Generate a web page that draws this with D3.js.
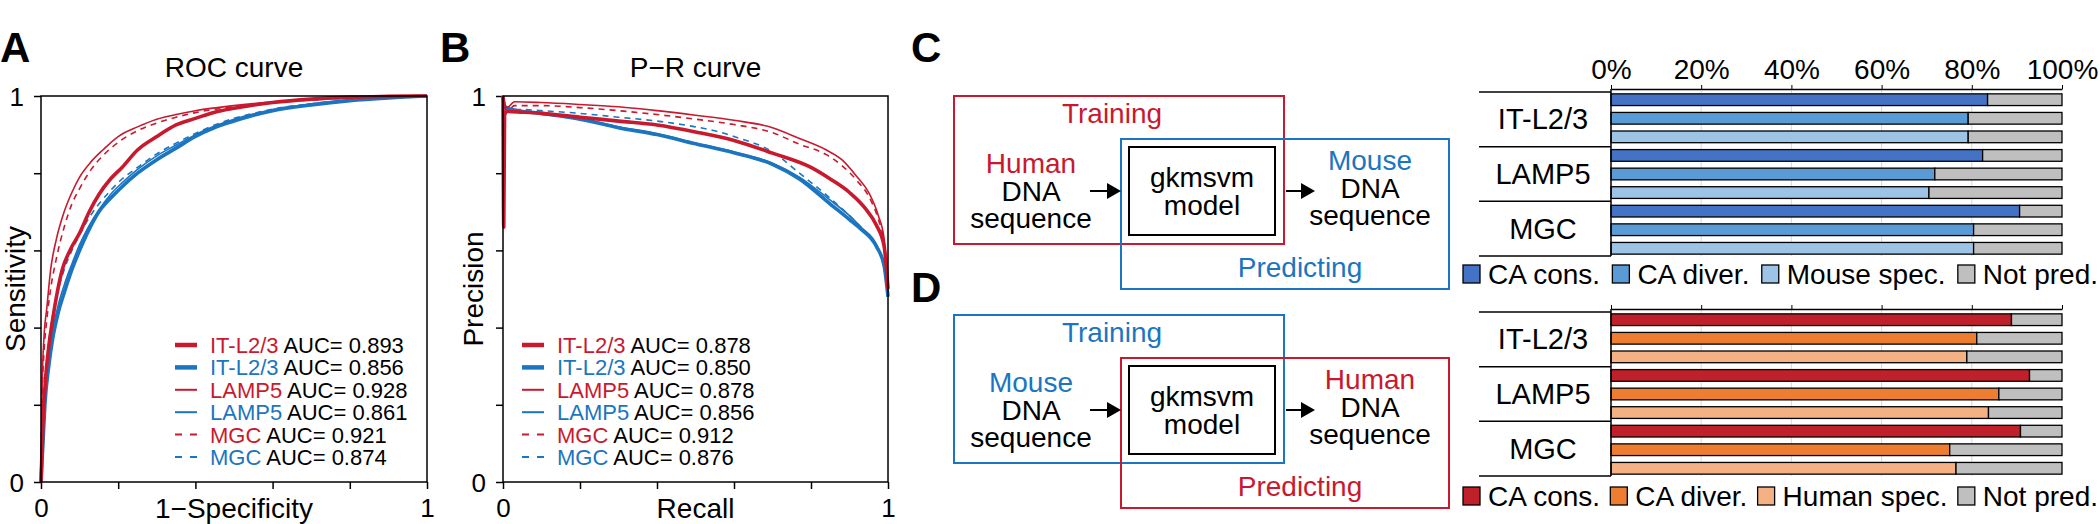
<!DOCTYPE html>
<html><head><meta charset="utf-8">
<script src="https://cdn.jsdelivr.net/npm/d3@7"></script>
<style>
html,body{margin:0;padding:0;background:#fff;}
svg{display:block;font-family:"Liberation Sans",Arial,Helvetica,sans-serif;}
</style></head><body>
<svg id="chart" width="2100" height="524"></svg>
<script>
// ---------------- DATA ----------------
const seriesNames = ["IT-L2/3","IT-L2/3","LAMP5","LAMP5","MGC","MGC"];
const seriesSpecies = ["human","mouse","human","mouse","human","mouse"];
const rocAUC = ["0.893","0.856","0.928","0.861","0.921","0.874"];
const prAUC  = ["0.878","0.850","0.878","0.856","0.912","0.876"];
const axisTicks = [0,0.2,0.4,0.6,0.8,1];

// ROC curves: [1-specificity, sensitivity]
const rocItHuman = [[0,0],[0.005,0.15],[0.012,0.27],[0.02,0.35],[0.03,0.42],[0.04,0.48],[0.055,0.55],[0.075,0.6],[0.1,0.645],[0.125,0.7],[0.15,0.745],[0.18,0.785],[0.21,0.815],[0.25,0.86],[0.3,0.895],[0.35,0.925],[0.4,0.942],[0.45,0.958],[0.5,0.968],[0.6,0.983],[0.7,0.992],[0.8,0.997],[0.9,0.999],[1,1]];
const rocItMouse = [[0,0],[0.005,0.1],[0.01,0.2],[0.02,0.3],[0.03,0.37],[0.045,0.44],[0.06,0.49],[0.08,0.55],[0.1,0.6],[0.125,0.655],[0.15,0.7],[0.18,0.735],[0.21,0.765],[0.25,0.8],[0.3,0.835],[0.35,0.865],[0.4,0.895],[0.45,0.918],[0.5,0.935],[0.55,0.95],[0.6,0.962],[0.7,0.977],[0.8,0.988],[0.9,0.995],[1,1]];
const rocLampHuman = [[0,0],[0.003,0.25],[0.008,0.38],[0.015,0.45],[0.025,0.55],[0.04,0.63],[0.06,0.7],[0.08,0.75],[0.1,0.79],[0.13,0.83],[0.16,0.86],[0.2,0.895],[0.25,0.92],[0.3,0.94],[0.35,0.952],[0.4,0.962],[0.5,0.975],[0.6,0.985],[0.7,0.99],[0.8,0.995],[0.9,0.998],[1,1]];
const rocLampMouse = [[0,0],[0.005,0.12],[0.01,0.22],[0.02,0.32],[0.03,0.39],[0.045,0.46],[0.06,0.51],[0.08,0.565],[0.1,0.615],[0.125,0.665],[0.15,0.705],[0.18,0.745],[0.21,0.775],[0.25,0.81],[0.3,0.845],[0.35,0.873],[0.4,0.9],[0.45,0.922],[0.5,0.94],[0.55,0.953],[0.6,0.965],[0.7,0.979],[0.8,0.989],[0.9,0.995],[1,1]];
const rocMgcHuman = [[0,0],[0.003,0.22],[0.008,0.34],[0.015,0.42],[0.025,0.5],[0.04,0.58],[0.06,0.66],[0.08,0.72],[0.1,0.76],[0.13,0.81],[0.16,0.845],[0.2,0.88],[0.25,0.91],[0.3,0.93],[0.35,0.945],[0.4,0.957],[0.5,0.972],[0.6,0.983],[0.7,0.99],[0.8,0.995],[0.9,0.998],[1,1]];
const rocMgcMouse = [[0,0],[0.005,0.14],[0.01,0.25],[0.02,0.36],[0.03,0.43],[0.045,0.5],[0.06,0.55],[0.08,0.6],[0.1,0.64],[0.125,0.685],[0.15,0.72],[0.18,0.755],[0.21,0.785],[0.25,0.815],[0.3,0.85],[0.35,0.878],[0.4,0.903],[0.45,0.925],[0.5,0.942],[0.55,0.955],[0.6,0.966],[0.7,0.98],[0.8,0.99],[0.9,0.996],[1,1]];

// P-R curves: [recall, precision]
const prItHuman = [[0,1],[0.002,0.66],[0.004,0.95],[0.01,0.96],[0.05,0.958],[0.1,0.955],[0.2,0.945],[0.3,0.935],[0.4,0.925],[0.5,0.907],[0.6,0.885],[0.7,0.852],[0.8,0.815],[0.85,0.785],[0.9,0.75],[0.94,0.71],[0.97,0.665],[0.99,0.61],[1,0.5]];
const prItMouse = [[0,1],[0.005,0.97],[0.02,0.965],[0.05,0.96],[0.1,0.955],[0.15,0.948],[0.2,0.94],[0.3,0.918],[0.4,0.9],[0.5,0.876],[0.6,0.853],[0.7,0.823],[0.77,0.785],[0.85,0.72],[0.9,0.68],[0.93,0.655],[0.97,0.61],[0.99,0.56],[1,0.48]];
const prLampHuman = [[0,1],[0.01,0.97],[0.03,0.985],[0.1,0.983],[0.2,0.978],[0.3,0.972],[0.4,0.962],[0.5,0.95],[0.6,0.937],[0.7,0.918],[0.77,0.89],[0.84,0.86],[0.88,0.835],[0.92,0.79],[0.95,0.75],[0.975,0.69],[0.99,0.63],[1,0.5]];
const prLampMouse = [[0,1],[0.005,0.975],[0.02,0.968],[0.05,0.962],[0.1,0.956],[0.15,0.95],[0.2,0.942],[0.3,0.92],[0.4,0.902],[0.5,0.878],[0.6,0.855],[0.7,0.826],[0.77,0.79],[0.85,0.73],[0.9,0.69],[0.93,0.66],[0.97,0.615],[0.99,0.56],[1,0.48]];
const prMgcHuman = [[0,1],[0.01,0.96],[0.03,0.975],[0.1,0.975],[0.2,0.97],[0.3,0.962],[0.4,0.952],[0.5,0.94],[0.6,0.926],[0.7,0.905],[0.77,0.875],[0.84,0.848],[0.88,0.82],[0.92,0.78],[0.95,0.74],[0.975,0.68],[0.99,0.62],[1,0.5]];
const prMgcMouse = [[0,1],[0.005,0.97],[0.02,0.965],[0.05,0.965],[0.1,0.962],[0.2,0.955],[0.3,0.945],[0.4,0.935],[0.5,0.92],[0.55,0.91],[0.6,0.895],[0.7,0.855],[0.77,0.8],[0.85,0.735],[0.9,0.69],[0.93,0.66],[0.97,0.61],[0.99,0.56],[1,0.48]];

const rocCurves = [rocItHuman, rocItMouse, rocLampHuman, rocLampMouse, rocMgcHuman, rocMgcMouse];
const prCurves  = [prItHuman, prItMouse, prLampHuman, prLampMouse, prMgcHuman, prMgcMouse];

// Stacked bars (percent)
const barCategories = ["IT-L2/3","LAMP5","MGC"];
const pctTicks = [0,20,40,60,80,100];
const cSeries = ["CA cons.","CA diver.","Mouse spec.","Not pred."];
const cValues = [[83.5,79.2,79.2],[82.4,71.8,70.5],[90.6,80.4,80.4]];
const dSeries = ["CA cons.","CA diver.","Human spec.","Not pred."];
const dValues = [[88.8,81.1,78.9],[92.8,86.0,83.7],[90.8,75.1,76.5]];

// ---------------- STYLE ----------------
const RED = "#c8192e", BLUE = "#1b75c0";
const speciesColor = s => s === "human" ? RED : BLUE;
const cColors = ["#4472c4","#5b9bd5","#9dc3e6","#bfbfbf"];
const dColors = ["#c0202a","#ed7d31","#f4b183","#bfbfbf"];
const lineWidth = i => i < 2 ? 3.6 : 1.6;
const lineDash = i => i >= 4 ? "6,5" : null;
const legWidth = i => i < 2 ? 4.5 : 2;
const legDash = i => i >= 4 ? "7,8" : null;

const svg = d3.select("#chart");
svg.append("rect").attr("width",2100).attr("height",524).attr("fill","#fff");

function panelLabel(t, x, y){
  svg.append("text").attr("x",x).attr("y",y).attr("font-size",42).attr("font-weight","bold").text(t);
}

function curvePanel(o){
  const x = d3.scaleLinear().domain([0,1]).range([o.x0,o.x1]);
  const y = d3.scaleLinear().domain([0,1]).range([o.y1,o.y0]);
  const g = svg.append("g");
  const fmt = d => d === 0 ? "0" : (Math.abs(d-1) < 1e-9 ? "1" : "");
  const ax = g.append("g").attr("transform",`translate(0,${o.y1})`)
    .call(d3.axisBottom(x).tickValues(axisTicks).tickSize(7).tickPadding(10).tickFormat(fmt));
  const ay = g.append("g").attr("transform",`translate(${o.x0},0)`)
    .call(d3.axisLeft(y).tickValues(axisTicks).tickSize(7).tickPadding(10).tickFormat(fmt));
  [ax,ay].forEach(a=>{
    a.select(".domain").remove();
    a.selectAll("line").attr("stroke","#000").attr("stroke-width",1.5);
    a.selectAll("text").attr("font-size",26).attr("fill","#000").attr("font-family",null);
    a.attr("font-family",null);
  });
  ay.selectAll("text").attr("dy","0.36em");
  const line = d3.line().x(d=>x(d[0])).y(d=>y(d[1])).curve(d3.curveMonotoneX);
  const order = [1,3,5,0,2,4];
  order.forEach(i=>{
    g.append("path").datum(o.curves[i]).attr("d",line).attr("fill","none")
      .attr("stroke",speciesColor(seriesSpecies[i])).attr("stroke-width",lineWidth(i))
      .attr("stroke-dasharray",lineDash(i)).attr("stroke-linejoin","round");
  });
  g.append("rect").attr("x",o.x0).attr("y",o.y0).attr("width",o.x1-o.x0).attr("height",o.y1-o.y0)
    .attr("fill","none").attr("stroke","#000").attr("stroke-width",1.5);
  const cx = (o.x0+o.x1)/2;
  g.append("text").attr("x",cx).attr("y",77).attr("text-anchor","middle").attr("font-size",28).text(o.title);
  g.append("text").attr("x",cx).attr("y",518).attr("text-anchor","middle").attr("font-size",28).text(o.xlabel);
  g.append("text").attr("transform",`translate(${o.ylx},${(o.y0+o.y1)/2}) rotate(-90)`)
    .attr("text-anchor","middle").attr("font-size",28).text(o.ylabel);
  const rowY = d3.scaleLinear().domain([0,5]).range([345,457]);
  o.auc.forEach((a,i)=>{
    const yy = rowY(i);
    g.append("line").attr("x1",o.legX).attr("x2",o.legX+22).attr("y1",yy).attr("y2",yy)
      .attr("stroke",speciesColor(seriesSpecies[i])).attr("stroke-width",legWidth(i)).attr("stroke-dasharray",legDash(i));
    const t = g.append("text").attr("x",o.legX+35).attr("y",yy+8).attr("font-size",22);
    t.append("tspan").attr("fill",speciesColor(seriesSpecies[i])).text(seriesNames[i]);
    t.append("tspan").attr("fill","#000").text(" AUC= "+a);
  });
}

curvePanel({x0:41,x1:427,y0:96,y1:482,title:"ROC curve",xlabel:"1\u2212Specificity",ylabel:"Sensitivity",
  ylx:25,curves:rocCurves,auc:rocAUC,legX:175});
curvePanel({x0:503,x1:888,y0:96,y1:482,title:"P\u2212R curve",xlabel:"Recall",ylabel:"Precision",
  ylx:483,curves:prCurves,auc:prAUC,legX:522});

panelLabel("A",0,62);
panelLabel("B",440,62);
panelLabel("C",911,62);
panelLabel("D",911,302);

// ---------------- DIAGRAMS ----------------
function arrow(x1,x2,y){
  svg.append("line").attr("x1",x1).attr("x2",x2-12).attr("y1",y).attr("y2",y).attr("stroke","#000").attr("stroke-width",2);
  svg.append("path").attr("d",`M${x2-14},${y-8}L${x2},${y}L${x2-14},${y+8}Z`).attr("fill","#000");
}
function diagram(dy, trainColor, predColor, trainSp, predSp){
  const g = svg.append("g").attr("font-size",28).attr("text-anchor","middle");
  g.append("rect").attr("x",954).attr("y",96+dy).attr("width",330).attr("height",148).attr("fill","none").attr("stroke",trainColor).attr("stroke-width",2);
  g.append("rect").attr("x",1121).attr("y",139+dy).attr("width",328).attr("height",150).attr("fill","none").attr("stroke",predColor).attr("stroke-width",2);
  g.append("rect").attr("x",1129).attr("y",147+dy).attr("width",146).attr("height",88).attr("fill","none").attr("stroke","#000").attr("stroke-width",2);
  g.append("text").attr("x",1112).attr("y",123+dy).attr("fill",trainColor).text("Training");
  g.append("text").attr("x",1031).attr("y",173+dy).attr("fill",trainColor).text(trainSp);
  g.append("text").attr("x",1031).attr("y",201+dy).text("DNA");
  g.append("text").attr("x",1031).attr("y",228+dy).text("sequence");
  g.append("text").attr("x",1202).attr("y",187+dy).text("gkmsvm");
  g.append("text").attr("x",1202).attr("y",215+dy).text("model");
  g.append("text").attr("x",1370).attr("y",170+dy).attr("fill",predColor).text(predSp);
  g.append("text").attr("x",1370).attr("y",198+dy).text("DNA");
  g.append("text").attr("x",1370).attr("y",225+dy).text("sequence");
  g.append("text").attr("x",1300).attr("y",277+dy).attr("fill",predColor).text("Predicting");
  arrow(1090,1121,191+dy);
  arrow(1286,1315,191+dy);
}
diagram(0, RED, BLUE, "Human", "Mouse");
diagram(219, BLUE, RED, "Mouse", "Human");

// ---------------- BARS ----------------
function barPanel(top, values, names, colors, showLabels, legY){
  const bottom = top + 164;
  const x = d3.scaleLinear().domain([0,100]).range([1611,2062]);
  const keys = [];
  barCategories.forEach((c,ci)=>[0,1,2].forEach(s=>keys.push(ci+"_"+s)));
  const y = d3.scaleBand().domain(keys).range([top,bottom]).paddingInner(0.37).paddingOuter(0.1);
  const g = svg.append("g");
  g.selectAll(".grid").data(pctTicks.slice(1,-1)).join("line")
    .attr("x1",d=>x(d)).attr("x2",d=>x(d)).attr("y1",top-3).attr("y2",bottom)
    .attr("stroke","#d9d9d9").attr("stroke-width",1);
  const ax = g.append("g").attr("transform",`translate(0,${top-3})`)
    .call(d3.axisTop(x).tickValues(pctTicks).tickSize(4).tickSizeOuter(0).tickPadding(6)
      .tickFormat(d=> showLabels ? d+"%" : ""));
  ax.attr("font-family",null);
  ax.select(".domain").attr("stroke","#000").attr("stroke-width",1.5);
  ax.selectAll("line").attr("stroke","#000").attr("stroke-width",1);
  ax.selectAll("text").attr("font-size",28).attr("fill","#000");
  barCategories.forEach((c,ci)=>{
    values[ci].forEach((v,s)=>{
      const yy = y(ci+"_"+s);
      g.append("rect").attr("x",x(0)).attr("y",yy).attr("width",x(v)-x(0)).attr("height",y.bandwidth())
        .attr("fill",colors[s]).attr("stroke","#000").attr("stroke-width",1.3);
      g.append("rect").attr("x",x(v)).attr("y",yy).attr("width",x(100)-x(v)).attr("height",y.bandwidth())
        .attr("fill",colors[3]).attr("stroke","#000").attr("stroke-width",1.3);
    });
  });
  const grpH = (bottom-top)/3;
  d3.range(4).forEach(k=>{
    g.append("line").attr("x1",1479).attr("x2",1611).attr("y1",top+k*grpH).attr("y2",top+k*grpH)
      .attr("stroke","#000").attr("stroke-width",1.5);
  });
  g.append("line").attr("x1",1611).attr("x2",1611).attr("y1",top-3).attr("y2",bottom).attr("stroke","#000").attr("stroke-width",1.5);
  barCategories.forEach((c,ci)=>{
    g.append("text").attr("x",1543).attr("y",top+(ci+0.5)*grpH+10).attr("text-anchor","middle")
      .attr("font-size",29).text(c);
  });
  // legend: fit between x=1463 and x=2098
  const startX = 1463, endX = 2098, sq = 17, sqGap = 8;
  const texts = names.map(n => g.append("text").attr("y",legY+10).attr("font-size",28).text(n));
  const widths = texts.map(t => t.node().getComputedTextLength());
  const used = d3.sum(widths) + names.length*(sq+sqGap);
  const gap = Math.max(4, (endX - startX - used)/(names.length-1));
  let lx = startX;
  names.forEach((n,i)=>{
    g.append("rect").attr("x",lx).attr("y",legY-9).attr("width",sq).attr("height",18)
      .attr("fill",colors[i]).attr("stroke","#000").attr("stroke-width",1.3);
    texts[i].attr("x",lx+sq+sqGap);
    lx = lx + sq + sqGap + widths[i] + gap;
  });
}
barPanel(92, cValues, cSeries, cColors, true, 274);
barPanel(312, dValues, dSeries, dColors, false, 496);
</script>
</body></html>
